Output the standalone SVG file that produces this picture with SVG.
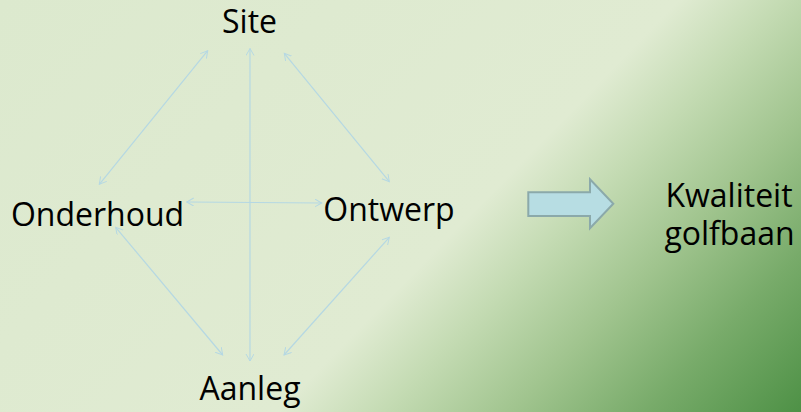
<svg xmlns="http://www.w3.org/2000/svg" width="801" height="412" viewBox="0 0 801 412">
  <defs>
    <linearGradient id="bg" gradientUnits="userSpaceOnUse" x1="0" y1="0" x2="616.5" y2="601">
      <stop offset="0" stop-color="#dce9ce"/>
      <stop offset="0.565" stop-color="#e0ebd2"/>
      <stop offset="0.652" stop-color="#c4dbb3"/>
      <stop offset="0.761" stop-color="#a0c48e"/>
      <stop offset="0.87" stop-color="#78ab6a"/>
      <stop offset="1" stop-color="#4e9146"/>
    </linearGradient>
    <marker id="ah" markerUnits="userSpaceOnUse" markerWidth="10" markerHeight="10" refX="7" refY="4" orient="auto-start-reverse">
      <path d="M0,0 L7,4 L0,8" fill="none" stroke="#b5d8e3" stroke-width="1"/>
    </marker>
    <style>
      .lbl { font-family: "Open Sans", "Noto Sans", sans-serif; font-size: 32px; fill: #000; text-anchor: middle; }
      .con { stroke: #b5d8e3; stroke-width: 1.2; fill: none; marker-start: url(#ah); marker-end: url(#ah); }
    </style>
  </defs>
  <rect x="0" y="0" width="801" height="412" fill="url(#bg)"/>
  <g id="connectors">
    <line class="con" x1="207.7" y1="50.7" x2="99.3" y2="184.3"/>
    <line class="con" x1="250" y1="48.5" x2="250" y2="361"/>
    <line class="con" x1="284.3" y1="53.3" x2="389.3" y2="181.7"/>
    <line class="con" x1="186.7" y1="202" x2="321.7" y2="203"/>
    <line class="con" x1="115.7" y1="227.3" x2="222.7" y2="355"/>
    <line class="con" x1="389.3" y1="237.3" x2="284" y2="355"/>
  </g>
  <g id="site"><text class="lbl" x="249.5" y="33">Site</text></g>
  <g id="onderhoud"><text class="lbl" x="97.5" y="226">Onderhoud</text></g>
  <g id="ontwerp"><text class="lbl" x="389" y="221">Ontwerp</text></g>
  <g id="aanleg"><text class="lbl" x="250" y="400">Aanleg</text></g>
  <g id="block-arrow">
    <path d="M528.3,192.3 L590,192.3 L590,179.3 L613.3,203.8 L590,228.3 L590,216 L528.3,216 Z" fill="#b7dde3" stroke="#8ba9aa" stroke-width="2"/>
  </g>
  <g id="kwaliteit">
    <text class="lbl" x="729" y="207">Kwaliteit</text>
    <text class="lbl" x="729.5" y="245">golfbaan</text>
  </g>
</svg>
